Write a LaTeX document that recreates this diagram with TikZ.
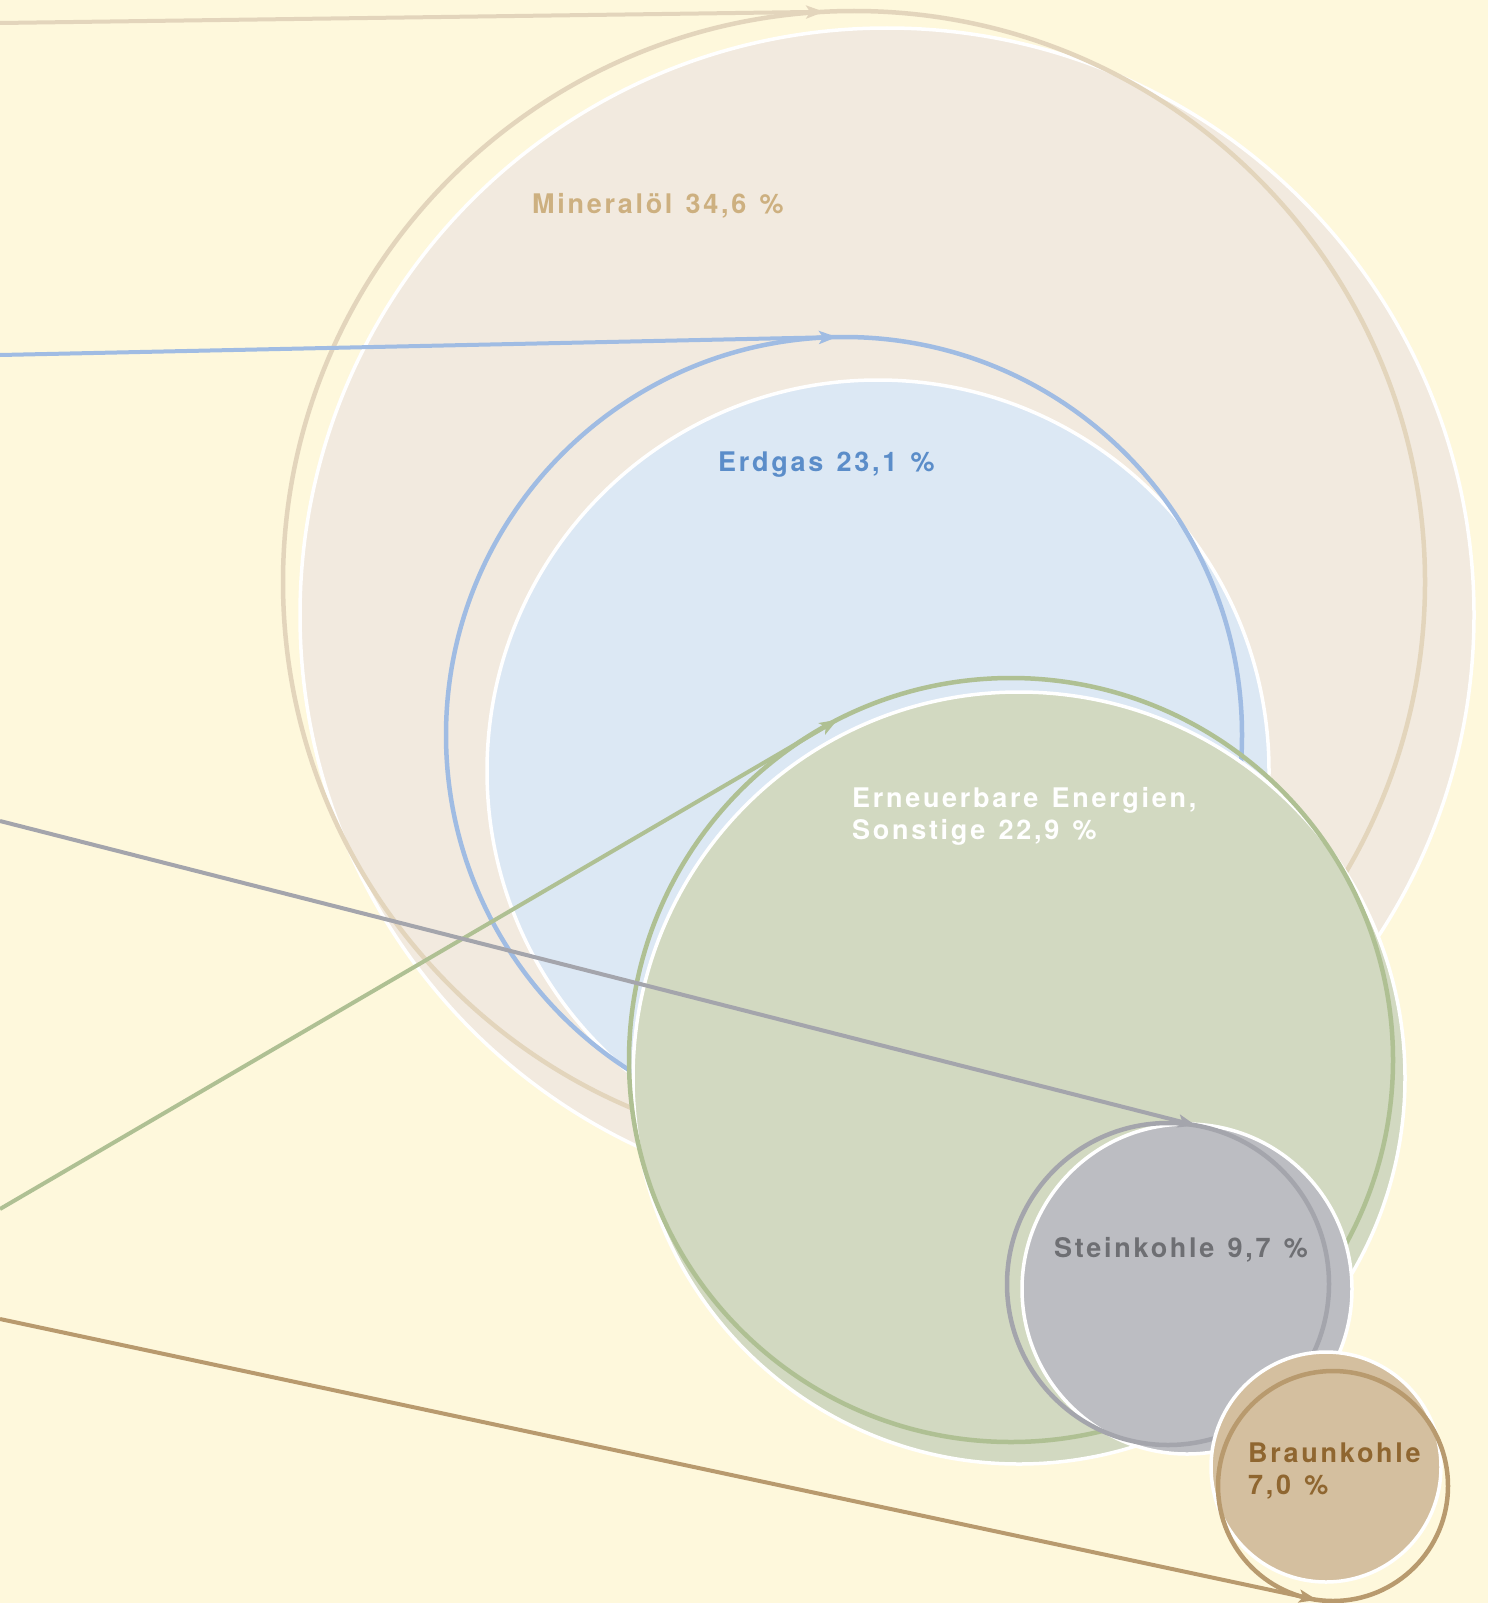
\documentclass[tikz,border=0pt]{standalone}
\usepackage{fontspec}
\newfontfamily\labfont[LetterSpace=10,WordSpace=1.3]{TeX Gyre Heros}
\usetikzlibrary{arrows.meta}
\definecolor{bg}{HTML}{FEF8DC}
\definecolor{minfill}{HTML}{F2EADF}
\definecolor{minline}{HTML}{E3D5BC}
\definecolor{mintext}{HTML}{CDB080}
\definecolor{gasfill}{HTML}{DCE8F4}
\definecolor{gasline}{HTML}{A0BCE3}
\definecolor{gastext}{HTML}{5B8DC9}
\definecolor{renfill}{HTML}{D2D9C1}
\definecolor{renline}{HTML}{AFC093}
\definecolor{stfill}{HTML}{BCBDC2}
\definecolor{stline}{HTML}{A4A5AC}
\definecolor{sttext}{HTML}{6E6F73}
\definecolor{brfill}{HTML}{D4BF9F}
\definecolor{brline}{HTML}{B89A6E}
\definecolor{brtext}{HTML}{8F6630}
\tikzset{
  fillc/.style={circle, inner sep=0pt, outer sep=0pt, draw=white, line width=3.5pt},
  ringc/.style={circle, inner sep=0pt, outer sep=0pt, line width=4.5pt},
  conn/.style={line width=4pt, -{Stealth[length=18pt,width=13pt,inset=4pt]}},
  lab/.style={font=\labfont\bfseries\fontsize{27}{32}\selectfont, inner sep=0pt, anchor=base west, align=left}
}
\begin{document}
\begin{tikzpicture}[x=1pt,y=-1pt]
\fill[bg] (0,0) rectangle (1488,1603);
\useasboundingbox (0,0) rectangle (1488,1603);
% Mineraloel
\node[fillc, fill=minfill, minimum size=1174pt] (minf) at (887,615) {};
\node[ringc, draw=minline, minimum size=1142pt] (minr) at (854,582) {};
\node[lab, text=mintext] (minl) at (532,213) {Mineralöl 34,6 \%};
% Erdgas
\node[fillc, fill=gasfill, minimum size=782pt] (gasf) at (878,771) {};
\node[ringc, draw=gasline, minimum size=796pt] (gasr) at (844,735) {};
\node[lab, text=gastext] (gasl) at (718,471) {Erdgas 23,1 \%};
% Erneuerbare
\node[fillc, fill=renfill, minimum size=772pt] (renf) at (1019,1078) {};
\node[ringc, draw=renline, minimum size=764pt] (renr) at (1011,1060) {};
\node[lab, text=white] (renl) at (852,839) {Erneuerbare Energien,\\Sonstige 22,9 \%};
% Steinkohle
\node[fillc, fill=stfill, minimum size=330pt] (stf) at (1187,1289) {};
\node[ringc, draw=stline, minimum size=322pt] (str) at (1168,1284) {};
\node[lab, text=sttext] (stl) at (1054,1257) {Steinkohle 9,7 \%};
% Braunkohle
\node[fillc, fill=brfill, minimum size=230pt] (brf) at (1326,1467) {};
\node[ringc, draw=brline, minimum size=230pt] (brr) at (1333,1486) {};
\node[lab, text=brtext] (brl) at (1248,1494) {Braunkohle\\7,0 \%};
% connectors
\coordinate (s1) at (0,23);
\coordinate (s2) at (0,355);
\coordinate (s3) at (0,821);
\coordinate (s4) at (0,1209);
\coordinate (s5) at (0,1319);
\draw[conn, minline] (s1) -- (minr.93);
\draw[conn, gasline] (s2) -- (gasr.91.4);
\draw[conn, renline] (s4) -- (renr.117.4);
\draw[conn, stline] (s3) -- (str.80);
\draw[conn, brline] (s5) -- (brr.262.3);
\end{tikzpicture}
\end{document}
